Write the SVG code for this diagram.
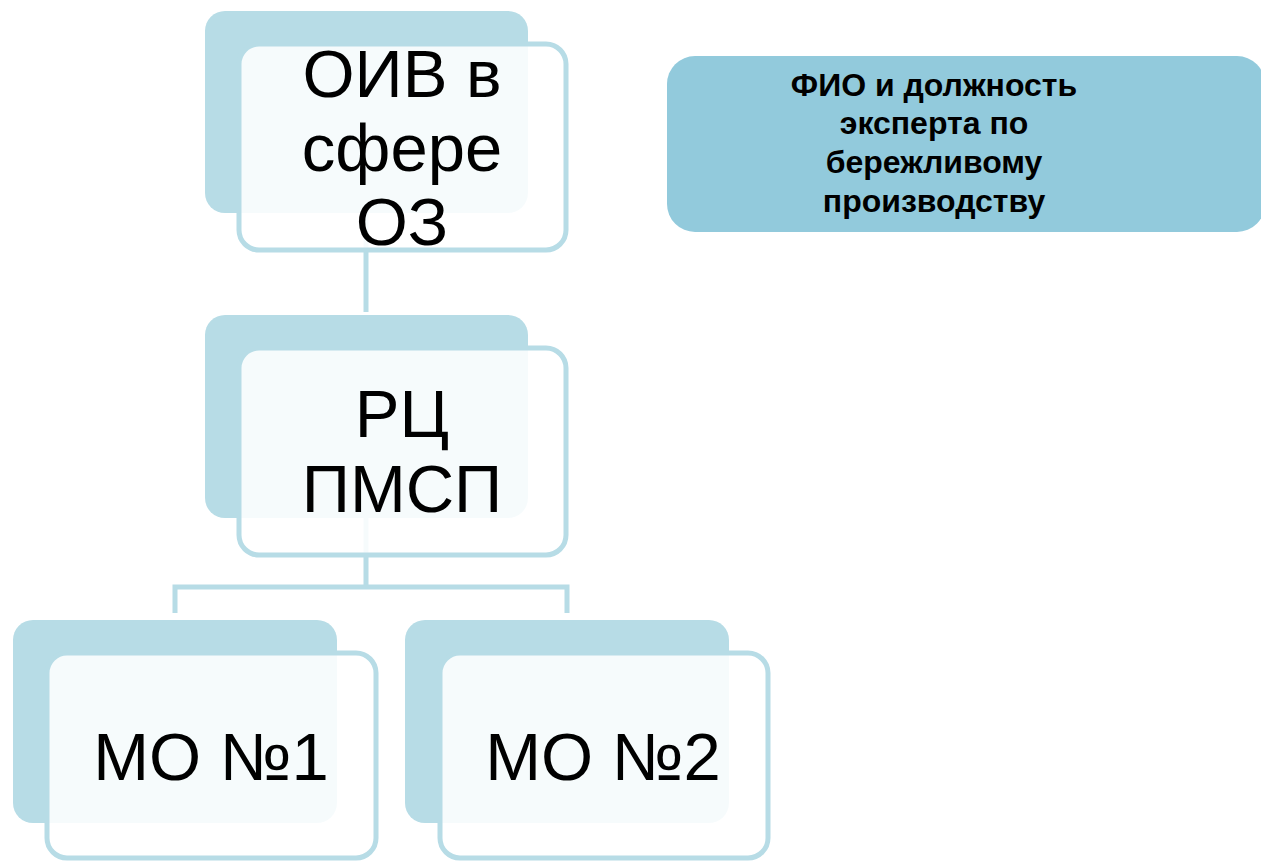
<svg xmlns="http://www.w3.org/2000/svg" width="1261" height="861" viewBox="0 0 1261 861">
<style>
.back{fill:#b7dce6}
.front{fill:#ffffff;fill-opacity:0.88;stroke:#b7dce6;stroke-width:5}
.conn{fill:none;stroke:#b7dce6;stroke-width:5}
.t{font-family:"Liberation Sans",Arial,sans-serif;font-size:67px;fill:#000;text-anchor:middle}
.tb{font-family:"Liberation Sans",Arial,sans-serif;font-size:32px;font-weight:bold;fill:#000;text-anchor:middle}
</style>
<rect width="1261" height="861" fill="#ffffff"/>
<g id="connectors">
<line class="conn" x1="366" y1="200" x2="366" y2="312"/>
<path class="conn" d="M366 430 V587 M175 613 V587 H567 V613"/>
</g>
<g id="node-oiv">
<rect class="back" x="205" y="11" width="323" height="202" rx="20"/>
<rect class="front" x="239" y="44" width="327" height="206" rx="20"/>
<text class="t" x="402" y="97">ОИВ в</text>
<text class="t" x="402" y="171">сфере</text>
<text class="t" x="402" y="245">ОЗ</text>
</g>
<g id="node-rc">
<rect class="back" x="205" y="315" width="323" height="203" rx="20"/>
<rect class="front" x="239" y="348" width="327" height="207" rx="20"/>
<text class="t" x="402" y="437">РЦ</text>
<text class="t" x="402" y="512">ПМСП</text>
</g>
<g id="node-mo1">
<rect class="back" x="13" y="620" width="324" height="203" rx="20"/>
<rect class="front" x="47" y="653" width="329" height="205" rx="20"/>
<text class="t" x="211" y="780">МО №1</text>
</g>
<g id="node-mo2">
<rect class="back" x="405" y="620" width="324" height="203" rx="20"/>
<rect class="front" x="440" y="653" width="328" height="205" rx="20"/>
<text class="t" x="603" y="780">МО №2</text>
</g>
<g id="node-expert">
<rect x="667" y="56" width="598" height="176" rx="28" fill="#92cadc"/>
<text class="tb" x="934" y="96">ФИО и должность</text>
<text class="tb" x="934" y="134">эксперта по</text>
<text class="tb" x="934" y="173">бережливому</text>
<text class="tb" x="934" y="212">производству</text>
</g>
</svg>
